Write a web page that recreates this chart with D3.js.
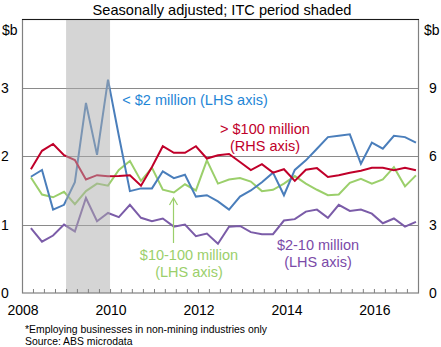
<!DOCTYPE html>
<html>
<head>
<meta charset="utf-8">
<script src="https://cdn.jsdelivr.net/npm/d3@7"></script>
<style>
  body { margin: 0; background: #fff; }
  svg { font-family: 'Liberation Sans', Arial, sans-serif; }
</style>
</head>
<body>
<svg id="chart"></svg>
<script>
// quarters (last month of each quarter)
const quarters = [
  '2008-03', '2008-06', '2008-09', '2008-12',
  '2009-03', '2009-06', '2009-09', '2009-12',
  '2010-03', '2010-06', '2010-09', '2010-12',
  '2011-03', '2011-06', '2011-09', '2011-12',
  '2012-03', '2012-06', '2012-09', '2012-12',
  '2013-03', '2013-06', '2013-09', '2013-12',
  '2014-03', '2014-06', '2014-09', '2014-12',
  '2015-03', '2015-06', '2015-09', '2015-12',
  '2016-03', '2016-06', '2016-09', '2016-12'
];

// < $2 million, LHS
const under2m = [
  1.70, 1.80, 1.22, 1.29, 1.62, 2.78, 2.02, 3.12, 2.30, 1.49,
  1.53, 1.53, 1.78, 1.68, 1.73, 1.41, 1.43, 1.34, 1.22, 1.41,
  1.50, 1.62, 1.76, 1.43, 1.80, 1.94, 2.11, 2.28, 2.30, 2.32,
  1.89, 2.20, 2.11, 2.30, 2.28, 2.20
];
// $2-10 million, LHS
const m2to10 = [
  0.95, 0.75, 0.84, 1.00, 0.90, 1.39, 1.05, 1.17, 1.11, 1.29,
  1.10, 1.05, 1.09, 0.97, 1.00, 0.83, 0.87, 0.72, 0.97, 0.98,
  0.89, 0.86, 0.86, 1.06, 1.08, 1.19, 1.22, 1.10, 1.29, 1.20,
  1.22, 1.16, 1.02, 1.09, 0.97, 1.04
];
// $10-100 million, LHS
const m10to100 = [
  1.69, 1.44, 1.40, 1.48, 1.30, 1.49, 1.60, 1.57, 1.80, 1.93,
  1.64, 1.83, 1.51, 1.47, 1.59, 1.50, 1.94, 1.60, 1.66, 1.68,
  1.63, 1.49, 1.51, 1.60, 1.71, 1.60, 1.51, 1.43, 1.44, 1.61,
  1.67, 1.60, 1.66, 1.84, 1.56, 1.72
];
// > $100 million, RHS
const over100m = [
  5.43, 6.24, 6.54, 6.05, 5.83, 4.98, 5.17, 5.12, 5.13, 5.17,
  4.71, 5.53, 6.44, 6.15, 6.15, 6.44, 5.90, 6.04, 6.10, 5.75,
  5.39, 5.65, 5.28, 5.43, 4.92, 5.41, 5.48, 5.09, 5.17, 5.28,
  5.36, 5.49, 5.49, 5.39, 5.49, 5.39
];

const leftTicks = [0, 1, 2, 3];
const rightTicks = [0, 3, 6, 9];
const yearLabels = [2008, 2010, 2012, 2014, 2016];

const width = 441;
const height = 347;
const plotLeft = 22;
const plotRight = 418;
const plotTop = 19.5;
const plotBottom = 293;

const svg = d3.select('#chart').attr('width', width).attr('height', height);

const parseQ = (q) => {
  const p = q.split('-');
  return new Date(+p[0], +p[1] - 1, 15);
};

const xScale = d3
  .scaleTime()
  .domain([new Date(2008, 0, 1), new Date(2017, 0, 1)])
  .range([plotLeft, plotRight]);
const yLeft = d3.scaleLinear().domain([0, 4]).range([plotBottom, plotTop]);
const yRight = d3.scaleLinear().domain([0, 12]).range([plotBottom, plotTop]);

// gridlines
svg
  .append('g')
  .selectAll('line')
  .data([1, 2, 3])
  .enter()
  .append('line')
  .attr('x1', plotLeft)
  .attr('x2', plotRight)
  .attr('y1', (d) => Math.round(yLeft(d)) + 0.5)
  .attr('y2', (d) => Math.round(yLeft(d)) + 0.5)
  .attr('stroke', '#8a8a8a')
  .attr('stroke-width', 1);

// series lines
const series = [
  { values: m2to10, y: yLeft, color: '#7b5ca8' },
  { values: m10to100, y: yLeft, color: '#9bcf6b' },
  { values: under2m, y: yLeft, color: '#4a7ebb' },
  { values: over100m, y: yRight, color: '#c0002a' }
];

series.forEach((s) => {
  const line = d3
    .line()
    .x((d, i) => xScale(parseQ(quarters[i])))
    .y((d) => s.y(d));
  svg
    .append('path')
    .datum(s.values)
    .attr('d', line)
    .attr('fill', 'none')
    .attr('stroke', s.color)
    .attr('stroke-width', 2)
    .attr('stroke-linejoin', 'miter');
});

// ITC shading, drawn over the lines
svg
  .append('rect')
  .attr('x', xScale(new Date(2009, 0, 1)))
  .attr('width', xScale(new Date(2010, 0, 1)) - xScale(new Date(2009, 0, 1)))
  .attr('y', plotTop)
  .attr('height', plotBottom - plotTop)
  .attr('fill', '#ababab')
  .attr('opacity', 0.5);

// quarter ticks
const tickDates = quarters.slice(0, -1).map((q) => {
  const d = parseQ(q);
  return new Date(d.getFullYear(), d.getMonth() + 1, 1);
});
const xAxis = d3
  .axisBottom(xScale)
  .tickValues(tickDates)
  .tickSizeInner(-4)
  .tickSizeOuter(0)
  .tickFormat('');
const gx = svg
  .append('g')
  .attr('transform', 'translate(0,' + plotBottom + ')')
  .call(xAxis);
gx.select('.domain').remove();
gx.selectAll('line').attr('stroke', '#808080');

// frame: grey sides and bottom, dark top
svg
  .append('rect')
  .attr('x', plotLeft + 0.5)
  .attr('y', plotTop)
  .attr('width', plotRight - plotLeft)
  .attr('height', plotBottom - plotTop)
  .attr('fill', 'none')
  .attr('stroke', '#808080')
  .attr('stroke-width', 1.2);
svg
  .append('line')
  .attr('x1', plotLeft)
  .attr('x2', plotRight + 1)
  .attr('y1', plotTop)
  .attr('y2', plotTop)
  .attr('stroke', '#1a1a1a')
  .attr('stroke-width', 1);

// axis labels
svg
  .append('g')
  .selectAll('text')
  .data(leftTicks)
  .enter()
  .append('text')
  .attr('x', 1)
  .attr('y', (d) => yLeft(d) + 5)
  .style('font-size', '14px')
  .text((d) => d);

svg
  .append('g')
  .selectAll('text')
  .data(rightTicks)
  .enter()
  .append('text')
  .attr('x', 429)
  .attr('y', (d) => yRight(d) + 5)
  .style('font-size', '14px')
  .text((d) => d);

svg
  .append('g')
  .selectAll('text')
  .data(yearLabels)
  .enter()
  .append('text')
  .attr('x', (d) => xScale(new Date(d, 0, 1)) + 1)
  .attr('y', 315)
  .attr('text-anchor', 'middle')
  .style('font-size', '14px')
  .text((d) => d);

svg.append('text').attr('x', 2).attr('y', 35).style('font-size', '14px').text('$b');
svg.append('text').attr('x', 424).attr('y', 35).style('font-size', '14px').text('$b');

svg
  .append('text')
  .attr('x', 222)
  .attr('y', 15)
  .attr('text-anchor', 'middle')
  .style('font-size', '14.6px')
  .text('Seasonally adjusted; ITC period shaded');

// series labels
const label = (lines, x, y, color) => {
  const t = svg
    .append('text')
    .attr('text-anchor', 'middle')
    .attr('fill', color)
    .style('font-size', '14.5px');
  lines.forEach((l, i) => {
    t.append('tspan').attr('x', x).attr('y', y + i * 16.5).text(l);
  });
};
label(['< $2 million (LHS axis)'], 195, 105, '#1f86d6');
label(['> $100 million', '(RHS axis)'], 265, 134, '#c0002a');
label(['$10-100 million', '(LHS axis)'], 189, 260, '#9bcf6b');
label(['$2-10 million', '(LHS axis)'], 318, 250, '#7b4aa8');

// arrow for the $10-100 million label
svg
  .append('path')
  .attr('d', 'M173.5,243 L173.5,198 M169.5,205 L173.5,198 L177.5,205')
  .attr('fill', 'none')
  .attr('stroke', '#9bcf6b')
  .attr('stroke-width', 1.2);

// footnotes
svg
  .append('text')
  .attr('x', 25)
  .attr('y', 333)
  .style('font-size', '10.4px')
  .text('*Employing businesses in non-mining industries only');
svg
  .append('text')
  .attr('x', 25)
  .attr('y', 345)
  .style('font-size', '10.4px')
  .text('Source: ABS microdata');
</script>
</body>
</html>
